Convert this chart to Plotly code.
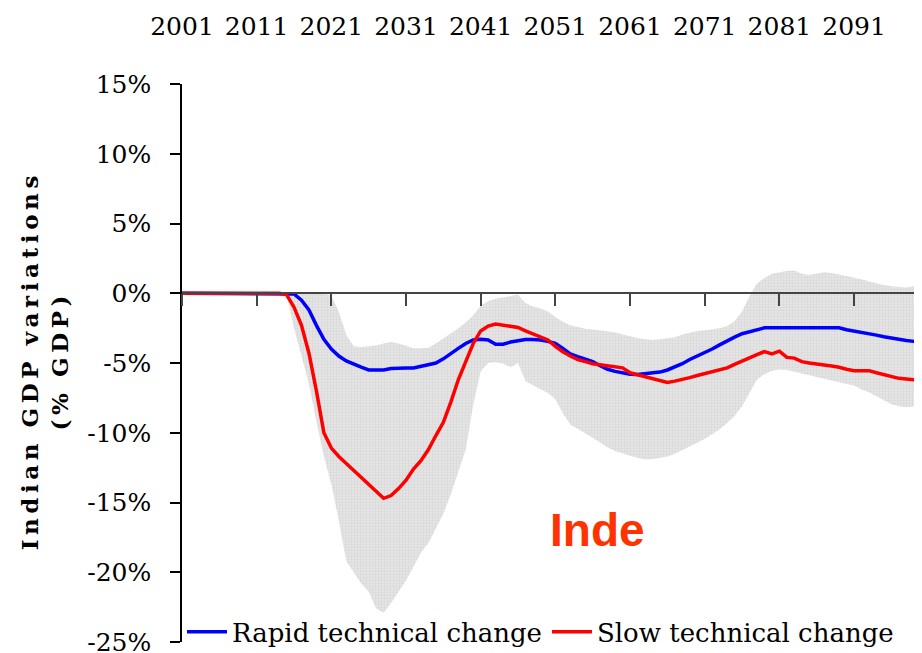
import plotly.graph_objects as go

years = list(range(2001, 2101))

rapid = [0]*15 + [
    -0.05, -0.5, -1.2, -2.3, -3.3, -4.0, -4.5, -4.85, -5.1, -5.3,      # 2016-2025
    -5.5, -5.5, -5.5, -5.4, -5.35, -5.35, -5.35, -5.25, -5.15, -5.0,   # 2026-2035
    -4.7, -4.3, -3.95, -3.6, -3.35, -3.3, -3.35, -3.65, -3.65, -3.5,   # 2036-2045
    -3.4, -3.32, -3.32, -3.35, -3.45, -3.6, -3.95, -4.35, -4.55, -4.7, # 2046-2055
    -4.9, -5.2, -5.45, -5.6, -5.72, -5.8, -5.82, -5.78, -5.72, -5.65,  # 2056-2065
    -5.5, -5.3, -5.05, -4.75, -4.5, -4.3, -4.0, -3.7, -3.4, -3.15,     # 2066-2075
    -2.9, -2.75, -2.58, -2.48] + [-2.48]*10 + [                          # 2076-2089
    -2.62, -2.7, -2.8, -2.9, -3.0, -3.12, -3.22, -3.3, -3.38, -3.45, -3.5]  # 2090-2100

slow = [0]*14 + [
    -0.1, -1.0, -2.3, -4.3, -7.0, -10.0,                                  # 2015-2020
    -11.1, -11.7, -12.2, -12.7, -13.2, -13.75, -14.25, -14.7, -14.5, -14.0,  # 2021-2030
    -13.4, -12.6, -12.0, -11.2, -10.2, -9.25, -7.8, -6.2, -4.9, -3.6,    # 2031-2040
    -2.7, -2.35, -2.2, -2.3, -2.35, -2.45, -2.7, -2.9, -3.1, -3.35,      # 2041-2050
    -3.8, -4.2, -4.5, -4.75, -4.9, -5.05, -5.12, -5.2, -5.25, -5.35,     # 2051-2060
    -5.7, -5.85, -6.0, -6.15, -6.3, -6.4, -6.3, -6.2, -6.05, -5.9,       # 2061-2070
    -5.75, -5.65, -5.5, -5.35, -5.1, -4.85, -4.6, -4.4, -4.18, -4.35,    # 2071-2080
    -4.15, -4.6, -4.65, -4.9, -5.0, -5.1, -5.15, -5.22, -5.3, -5.45,     # 2081-2090
    -5.55, -5.55, -5.55, -5.7, -5.85, -6.0, -6.1, -6.15, -6.22, -6.26]   # 2091-2100

band_upper = [0]*20 + [
    -0.2, -1.3, -3.0, -3.8, -3.85, -3.8, -3.75, -3.6, -3.5, -3.6,        # 2021-2030
    -3.75, -3.95, -3.95, -3.9, -3.6, -3.25, -2.85, -2.5, -2.1, -1.6,     # 2031-2040
    -0.9, -0.55, -0.4, -0.3, -0.2, -0.1, -0.7, -0.95, -1.1, -1.3,        # 2041-2050
    -1.7, -2.05, -2.3, -2.45, -2.55, -2.6, -2.65, -2.7, -2.8, -2.95,     # 2051-2060
    -3.1, -3.2, -3.3, -3.35, -3.3, -3.25, -3.15, -2.95, -2.8, -2.7,      # 2061-2070
    -2.65, -2.6, -2.5, -2.35, -2.0, -1.3, -0.2, 0.7, 1.1, 1.4,           # 2071-2080
    1.5, 1.6, 1.63, 1.4, 1.3, 1.4, 1.5, 1.45, 1.35, 1.25,                # 2081-2090
    1.15, 1.0, 0.85, 0.7, 0.6, 0.5, 0.45, 0.42, 0.5, 0.62]               # 2091-2100

band_lower = [0]*14 + [
    -0.1, -2.5, -4.5, -6.5, -9.2, -11.7,                                  # 2015-2020
    -13.7, -16.3, -19.2, -20.0, -20.8, -21.4, -22.6, -22.9, -22.2, -21.4,  # 2021-2030
    -20.6, -19.6, -18.6, -17.9, -16.9, -15.8, -14.4, -12.8, -11.2, -8.0,   # 2031-2040
    -5.6, -5.0, -4.95, -5.05, -5.3, -5.0, -6.3, -6.6, -6.9, -7.15,         # 2041-2050
    -7.6, -8.6, -9.4, -9.7, -10.0, -10.35, -10.7, -11.05, -11.3, -11.5,    # 2051-2060
    -11.65, -11.8, -11.92, -11.9, -11.8, -11.7, -11.5, -11.25, -10.95, -10.7,  # 2061-2070
    -10.45, -10.1, -9.75, -9.3, -8.8, -8.1, -7.1, -6.2, -5.8, -5.55,       # 2071-2080
    -5.47, -5.5, -5.62, -5.75, -5.9, -6.02, -6.15, -6.28, -6.38, -6.5,     # 2081-2090
    -6.62, -6.9, -7.1, -7.4, -7.7, -7.95, -8.1, -8.17, -8.12, -8.05]       # 2091-2100

label_years = list(range(2001, 2092, 10))
label_text = [str(y) for y in label_years]
y_ticks = [-25, -20, -15, -10, -5, 0, 5, 10, 15]
y_labels = ["-25%", "-20%", "-15%", "-10%", "-5%", "0%", "5%", "10%", "15%"]

series_names = ["Rapid technical change", "Slow technical change"]
series_colors = ["#0000FF", "#FF0000"]
region_label = "Inde"
y_title = ("I\u2009n\u2009d\u2009i\u2009a\u2009n \u00a0G\u2009D\u2009P \u00a0"
           "v\u2009a\u2009r\u2009i\u2009a\u2009t\u2009i\u2009o\u2009n\u2009s"
           "<br>(\u2009%\u00a0 G\u2009D\u2009P\u2009)")

SERIF = "DejaVu Serif"
SANS = "Liberation Sans"
x_range = [2001, 2100.1]

fig = go.Figure()

# uncertainty band (fine stipple like the original)
fig.add_trace(go.Scatter(x=years, y=band_lower, mode="lines", line=dict(width=0),
                         showlegend=False, hoverinfo="skip"))
fig.add_trace(go.Scatter(x=years, y=band_upper, mode="lines", line=dict(width=0),
                         fill="tonexty", fillcolor="#DCDCDC",
                         fillpattern=dict(shape=".", size=3, solidity=0.45,
                                          fgcolor="#C9C9C9", bgcolor="#E6E6E6"),
                         showlegend=False, hoverinfo="skip"))

fig.add_trace(go.Scatter(x=years, y=rapid, mode="lines", name=series_names[0],
                         line=dict(color=series_colors[0], width=3.5)))
fig.add_trace(go.Scatter(x=years, y=slow, mode="lines", name=series_names[1],
                         line=dict(color=series_colors[1], width=3.5)))

# invisible carrier for the top label axis
fig.add_trace(go.Scatter(x=years, y=rapid, xaxis="x2", mode="lines", opacity=0,
                         line=dict(width=0), showlegend=False, hoverinfo="skip"))

fig.add_annotation(x=2056.6, y=-17.0, xref="x", yref="y", text=region_label,
                   showarrow=False,
                   font=dict(family=SANS, size=46, color="#FF3300", weight="bold"))

# page body adds an 8px offset, so the figure is 8px smaller than the window
fig.update_layout(
    width=914, height=645,
    margin=dict(l=174, r=0, t=76, b=11, autoexpand=False),
    paper_bgcolor="white", plot_bgcolor="white",
    font=dict(family=SERIF, color="black"),
    xaxis=dict(range=x_range, anchor="free", position=0.625, automargin=False,
               tickvals=label_years, showticklabels=False,
               ticks="outside", ticklen=12, tickwidth=1.5, tickcolor="#444444",
               showline=True, linecolor="#444444", linewidth=1.5,
               showgrid=False, zeroline=False),
    xaxis2=dict(range=x_range, overlaying="x", side="top", automargin=False,
                tickvals=label_years, ticktext=label_text, tickangle=0,
                tickfont=dict(family=SERIF, size=25, color="black"),
                ticks="", ticklabelstandoff=43,
                showline=False, showgrid=False, zeroline=False),
    yaxis=dict(range=[-25, 15], tickvals=y_ticks, ticktext=y_labels, automargin=False,
               tickfont=dict(family=SERIF, size=25, color="black"),
               ticklabeloverflow="allow",
               ticks="outside", ticklen=10, tickwidth=1.5, tickcolor="black",
               ticklabelstandoff=14,
               showline=True, linecolor="black", linewidth=1.5,
               showgrid=False, zeroline=False,
               title=dict(text=y_title,
                          font=dict(family=SERIF, size=23, color="black", weight="bold"),
                          standoff=12)),
    legend=dict(orientation="h", x=0, xanchor="left", y=0.018, yanchor="middle",
                traceorder="normal",
                font=dict(family=SERIF, size=26, color="black"),
                bgcolor="rgba(0,0,0,0)", itemwidth=40),
)

fig.write_html("out.html")
